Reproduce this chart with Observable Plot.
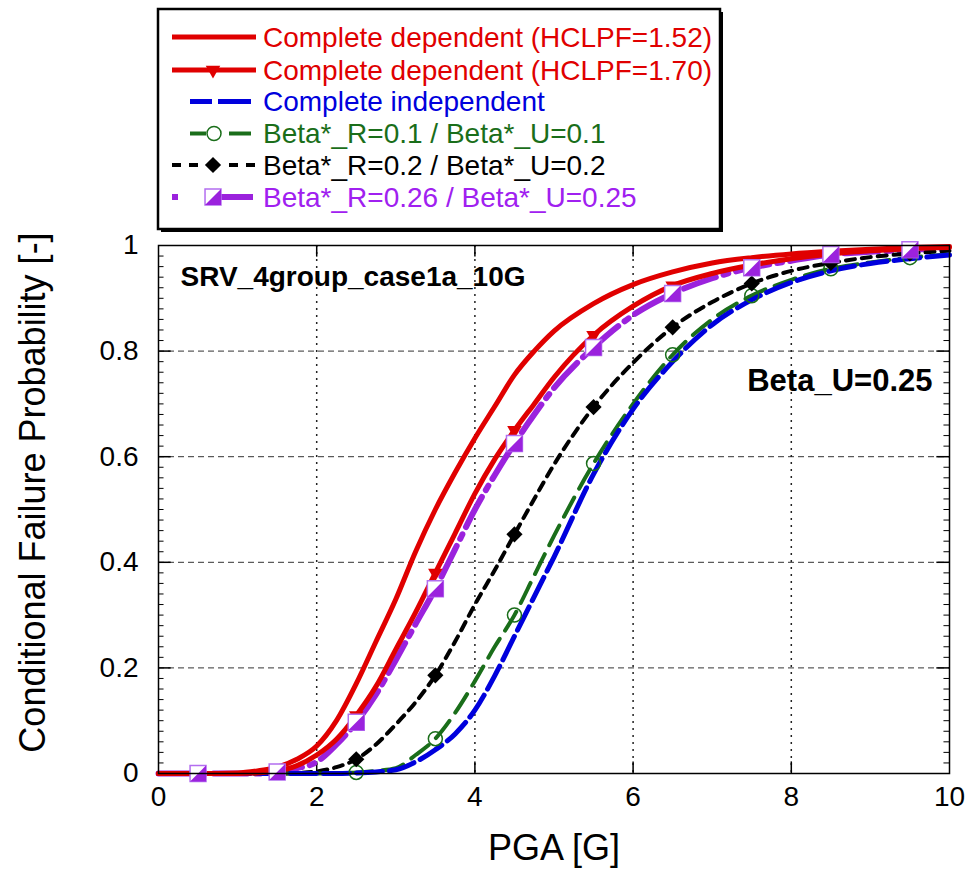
<!DOCTYPE html>
<html><head><meta charset="utf-8">
<script src="https://cdn.jsdelivr.net/npm/d3@7"></script>
<script src="https://cdn.jsdelivr.net/npm/@observablehq/plot@0.6"></script>
<style>
body{margin:0;background:#fff;}
#chart{width:971px;height:870px;}
</style>
</head><body><div id="chart"></div>
<script>
// ---------- data ----------
const pga = [0,0.5,1,1.25,1.5,1.75,2,2.25,2.5,2.75,3,3.25,3.5,3.75,4,4.25,4.5,4.75,5,5.5,6,6.5,7,7.5,8,8.5,9,9.5,10];
const depHclpf152 = [0,0,0.001,0.005,0.012,0.027,0.052,0.1,0.17,0.25,0.33,0.42,0.5,0.57,0.635,0.695,0.755,0.8,0.838,0.89,0.926,0.95,0.967,0.977,0.984,0.989,0.993,0.996,0.998];
const depHclpf170 = [0,0,0,0.001,0.005,0.015,0.035,0.065,0.11,0.165,0.235,0.305,0.38,0.455,0.53,0.595,0.65,0.7,0.75,0.83,0.885,0.924,0.947,0.963,0.975,0.984,0.99,0.994,0.996];
const independent = [0,0,0,0,0,0,0,0,0.001,0.003,0.007,0.022,0.045,0.075,0.12,0.185,0.26,0.335,0.41,0.567,0.69,0.78,0.85,0.897,0.93,0.952,0.966,0.975,0.982];
const beta01 = [0,0,0,0,0,0,0,0.001,0.002,0.005,0.01,0.035,0.066,0.115,0.175,0.24,0.3,0.375,0.45,0.587,0.7,0.793,0.86,0.905,0.935,0.956,0.968,0.977,0.983];
const beta02 = [0,0,0,0,0,0.001,0.004,0.012,0.027,0.055,0.093,0.135,0.186,0.25,0.32,0.385,0.453,0.52,0.585,0.694,0.778,0.845,0.893,0.928,0.952,0.967,0.978,0.985,0.99];
const beta026 = [0,0,0,0,0.003,0.01,0.022,0.055,0.097,0.15,0.215,0.283,0.35,0.425,0.5,0.565,0.625,0.68,0.73,0.807,0.868,0.909,0.938,0.958,0.971,0.983,0.988,0.992,0.995];
const markerPga = [0.5,1.5,2.5,3.5,4.5,5.5,6.5,7.5,8.5,9.5];
const markerPgaLate = [2.5,3.5,4.5,5.5,6.5,7.5,8.5,9.5];
const seriesNames = [
  "Complete dependent (HCLPF=1.52)",
  "Complete dependent (HCLPF=1.70)",
  "Complete independent",
  "Beta*_R=0.1 / Beta*_U=0.1",
  "Beta*_R=0.2 / Beta*_U=0.2",
  "Beta*_R=0.26 / Beta*_U=0.25"
];
const xTicks = [0,2,4,6,8,10];
const yTicks = [0,0.2,0.4,0.6,0.8,1];
const yTickLabels = ["0","0.2","0.4","0.6","0.8","1"];
const xTitle = "PGA [G]";
const yTitle = "Conditional Failure Probability [-]";
const caseLabel = "SRV_4group_case1a_10G";
const betaLabel = "Beta_U=0.25";

// ---------- styles ----------
const RED = "#e00000", BLUE = "#0000dd", GREEN = "#1a6e1a", BLACK = "#000000", PURPLE = "#9b22dd", PURPLE_T = "#a020f0", PURPLE_EDGE = "#b36ef0";
const toRows = vals => pga.map((p, i) => ({x: p, y: vals[i]}));
const pick = (vals, xs) => toRows(vals).filter(d => xs.includes(d.x));

const halfSquare = {draw(ctx, size) { const h = Math.sqrt(size) / 2; ctx.moveTo(-h, h); ctx.lineTo(h, h); ctx.lineTo(h, -h); ctx.closePath(); }};

const yMinor = d3.range(1, 50).filter(i => i % 10 !== 0).map(i => i / 50);

const font = "'Liberation Sans', Arial, sans-serif";
const SQ_R = 9, DIA_R = 7.3, TRI_R = 5.4, CIR_R = 7;

const chart = Plot.plot({
  width: 971, height: 870,
  marginLeft: 158, marginRight: 22, marginTop: 245, marginBottom: 97,
  style: {fontFamily: font, background: "#fff", color: "#000"},
  x: {domain: [0, 10]},
  y: {domain: [0, 1]},
  marks: [
    Plot.ruleY(yTicks.slice(1, -1), {stroke: "#333", strokeDasharray: "6,4", strokeWidth: 1}),
    Plot.ruleX(xTicks.slice(1, -1), {stroke: "#222", strokeDasharray: "2,5", strokeWidth: 1.5}),
    Plot.ruleY(yMinor, {x1: 0, x2: 0.07, stroke: "#000", strokeWidth: 1}),
    Plot.ruleY(yMinor, {x1: 9.93, x2: 10, stroke: "#000", strokeWidth: 1}),
    Plot.ruleY(yTicks.slice(1, -1), {x1: 0, x2: 0.16, stroke: "#000", strokeWidth: 1.5}),
    Plot.ruleY(yTicks.slice(1, -1), {x1: 9.84, x2: 10, stroke: "#000", strokeWidth: 1.5}),
    Plot.ruleX(xTicks.slice(1, -1), {y1: 0, y2: 0.022, stroke: "#000", strokeWidth: 1.5}),
    Plot.ruleX(xTicks.slice(1, -1), {y1: 0.978, y2: 1, stroke: "#000", strokeWidth: 1.5}),
    Plot.line(toRows(beta026), {x: "x", y: "y", stroke: PURPLE, strokeWidth: 6, strokeDasharray: "34,8,5,8", curve: "monotone-x"}),
    Plot.line(toRows(beta02), {x: "x", y: "y", stroke: BLACK, strokeWidth: 4, strokeDasharray: "9,7", curve: "monotone-x"}),
    Plot.line(toRows(beta01), {x: "x", y: "y", stroke: GREEN, strokeWidth: 4, strokeDasharray: "22,10", curve: "monotone-x"}),
    Plot.line(toRows(independent), {x: "x", y: "y", stroke: BLUE, strokeWidth: 5, strokeDasharray: "26,7", curve: "monotone-x"}),
    Plot.line(toRows(depHclpf170), {x: "x", y: "y", stroke: RED, strokeWidth: 5, curve: "monotone-x"}),
    Plot.line(toRows(depHclpf152), {x: "x", y: "y", stroke: RED, strokeWidth: 5, curve: "monotone-x"}),
    Plot.dot(pick(depHclpf170, markerPga), {x: "x", y: "y", symbol: "triangle", rotate: 180, r: TRI_R, fill: RED}),
    Plot.dot(pick(beta01, markerPgaLate), {x: "x", y: "y", symbol: "circle", r: CIR_R, fill: "none", stroke: GREEN, strokeWidth: 1.5}),
    Plot.dot(pick(beta02, markerPgaLate), {x: "x", y: "y", symbol: "diamond2", r: DIA_R, fill: BLACK}),
    Plot.dot(pick(beta026, markerPga), {x: "x", y: "y", symbol: "square", r: SQ_R, fill: "#fff", stroke: PURPLE_EDGE, strokeWidth: 1.5}),
    Plot.dot(pick(beta026, markerPga), {x: "x", y: "y", symbol: halfSquare, r: SQ_R, fill: PURPLE}),
    Plot.frame({stroke: "#000", strokeWidth: 1.5}),
    Plot.text([caseLabel], {text: d => d, frameAnchor: "top-left", dx: 22, dy: 32, textAnchor: "start", lineAnchor: "middle", fontSize: 28, fontWeight: "bold", fill: "#000"}),
    Plot.text([betaLabel], {text: d => d, frameAnchor: "top-right", dx: -17, dy: 136, textAnchor: "end", lineAnchor: "middle", fontSize: 31, fontWeight: "bold", fill: "#000"}),
    Plot.axisX(xTicks, {tickSize: 0, tickPadding: 13, fontSize: 28, label: null, tickFormat: d => String(d)}),
    Plot.axisY(yTicks, {tickSize: 0, tickPadding: 20, fontSize: 28, label: null, tickFormat: (d, i) => yTickLabels[i]}),
    Plot.text([xTitle], {text: d => d, frameAnchor: "bottom", dy: 75, textAnchor: "middle", lineAnchor: "middle", fontSize: 36, fill: "#000"}),
    Plot.text([yTitle], {text: d => d, frameAnchor: "left", dx: -125, dy: -17, rotate: -90, textAnchor: "middle", lineAnchor: "middle", fontSize: 36, fill: "#000"})
  ]
});
document.getElementById("chart").appendChild(chart);

// ---------- legend ----------
const svg = d3.select(chart);
const lg = svg.append("g").attr("font-family", font).attr("text-anchor", "start");
lg.append("rect").attr("x", 161).attr("y", 12).attr("width", 562).attr("height", 220).attr("fill", "#000");
lg.append("rect").attr("x", 158).attr("y", 9).attr("width", 562).attr("height", 220).attr("fill", "#fff").attr("stroke", "#000").attr("stroke-width", 2.5);
const rowY = [37, 70, 101.5, 133.5, 165, 197];
const textColors = [RED, RED, BLUE, GREEN, BLACK, PURPLE_T];
const seg = (y, x1, x2, color, w) => lg.append("line").attr("x1", x1).attr("x2", x2).attr("y1", y).attr("y2", y).attr("stroke", color).attr("stroke-width", w);
const sym = (type, size, y, x, attrs, rot) => {
  const p = lg.append("path").attr("d", d3.symbol(type, size)()).attr("transform", `translate(${x},${y})${rot ? ` rotate(${rot})` : ""}`);
  Object.entries(attrs).forEach(([k, v]) => p.attr(k, v));
};
const area = r => Math.PI * r * r;
// row 1
seg(rowY[0], 172, 256, RED, 5);
// row 2
seg(rowY[1], 172, 256, RED, 5);
sym(d3.symbolTriangle, area(TRI_R), rowY[1], 213, {fill: RED}, 180);
// row 3
seg(rowY[2], 190, 212, BLUE, 5); seg(rowY[2], 218, 251, BLUE, 5);
// row 4
seg(rowY[3], 190, 206, GREEN, 4); seg(rowY[3], 229, 251, GREEN, 4);
sym(d3.symbolCircle, area(CIR_R), rowY[3], 214, {fill: "none", stroke: GREEN, "stroke-width": 1.5});
// row 5
[[172, 181], [189, 198], [229, 238], [246, 255]].forEach(([a, b]) => seg(rowY[4], a, b, BLACK, 4));
sym(d3.symbolDiamond2, area(DIA_R), rowY[4], 213, {fill: BLACK});
// row 6
seg(rowY[5], 172, 178, PURPLE, 6); seg(rowY[5], 220, 253, PURPLE, 6);
sym(d3.symbolSquare, area(SQ_R), rowY[5], 213, {fill: "#fff", stroke: PURPLE_EDGE, "stroke-width": 1.5});
sym(halfSquare, area(SQ_R), rowY[5], 213, {fill: PURPLE});
seriesNames.forEach((name, i) => {
  lg.append("text").attr("x", 263).attr("y", rowY[i]).attr("dy", "0.35em").attr("font-size", 28).attr("text-anchor", "start").attr("fill", textColors[i]).text(name);
});
</script>
</body></html>
